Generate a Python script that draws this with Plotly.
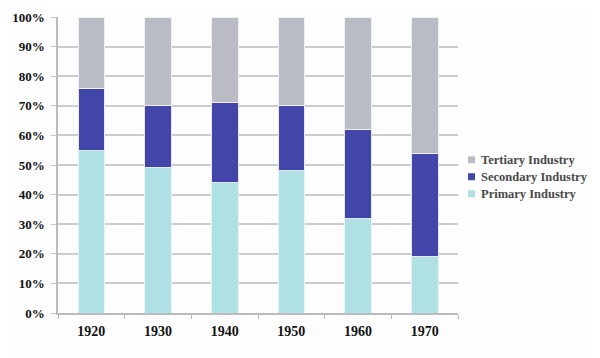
import plotly.graph_objects as go

years = ["1920", "1930", "1940", "1950", "1960", "1970"]
primary = [55, 49, 44, 48, 32, 19]
secondary = [21, 21, 27, 22, 30, 35]
tertiary = [24, 30, 29, 30, 38, 46]

series_names = ["Primary Industry", "Secondary Industry", "Tertiary Industry"]
series_colors = ["#aee0e4", "#4146a8", "#b9bcc4"]
edge_colors = ["#e6f6f8", "#e6e8f6", "#f0f0f2"]
series_values = [primary, secondary, tertiary]

# page body has an 8px default margin; compensate so the plot lands where the reference has it
OFF = 8
W, H = 600, 358
ML, MR, MT, MB = 58 - OFF, 142 + OFF, 17 - OFF, 44.5 + OFF

fig = go.Figure()
for name, vals, col, edge in zip(series_names, series_values, series_colors, edge_colors):
    fig.add_bar(x=years, y=vals, name=name,
                marker=dict(color=col, line=dict(color=edge, width=1)))

font_serif = "Liberation Serif"

plot_w = W - ML - MR
plot_h = H - MT - MB
def px_to_paper_x(px):
    return (px - OFF - ML) / plot_w
def px_to_paper_y(py):
    return (H - MB - (py - OFF)) / plot_h

legend_rows = [160, 177, 194]
shapes = []
annotations = []
for row_y, idx in zip(legend_rows, [2, 1, 0]):
    shapes.append(dict(type="rect", xref="paper", yref="paper",
                       x0=px_to_paper_x(468), x1=px_to_paper_x(475),
                       y0=px_to_paper_y(row_y + 3.5), y1=px_to_paper_y(row_y - 3.5),
                       fillcolor=series_colors[idx], line=dict(width=0)))
    annotations.append(dict(xref="paper", yref="paper",
                            x=px_to_paper_x(479), y=px_to_paper_y(row_y),
                            xanchor="left", yanchor="middle", showarrow=False,
                            text=series_names[idx],
                            font=dict(family=font_serif, size=12.5, color="#4a4a4a",
                                      weight="bold")))

fig.update_layout(
    barmode="stack",
    bargap=0.6,
    width=W, height=H,
    margin=dict(l=ML, r=MR, t=MT, b=MB, autoexpand=False),
    paper_bgcolor="#fdfdfd",
    plot_bgcolor="#fdfdfd",
    font=dict(family=font_serif, color="#111111"),
    showlegend=False,
    shapes=shapes,
    annotations=annotations,
)
fig.update_xaxes(
    type="category", automargin=False,
    showline=True, linecolor="#bbbbbb", linewidth=1.5,
    ticks="outside", tickson="boundaries", ticklen=4, tickcolor="#bbbbbb",
    tickfont=dict(family=font_serif, size=14, color="#111111", weight="bold"),
    ticklabelstandoff=4,
    showgrid=False,
)
fig.update_yaxes(
    range=[0, 100], dtick=10, ticksuffix="%", automargin=False,
    showline=True, linecolor="#bbbbbb", linewidth=1.5,
    ticks="outside", ticklen=5, tickcolor="#c8c8c8",
    showgrid=True, gridcolor="#cccccc", gridwidth=1.5,
    tickfont=dict(family=font_serif, size=13, color="#111111", weight="bold"),
    ticklabelstandoff=4,
    zeroline=False,
)
fig.write_html("out.html")
